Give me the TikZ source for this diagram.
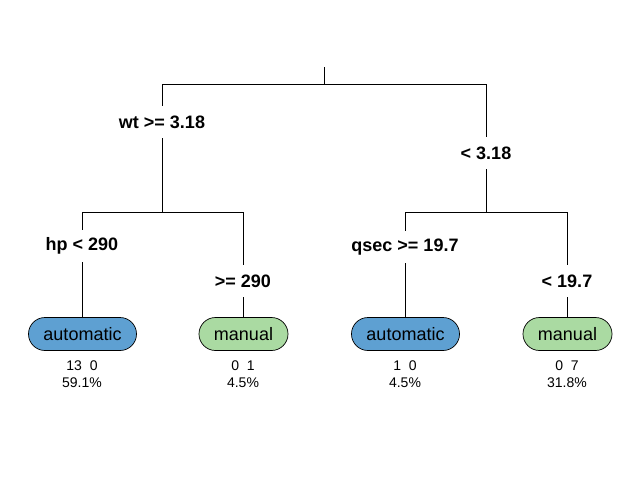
\documentclass[tikz,border=0pt]{standalone}
\usepackage{fontspec}
\setmainfont{Liberation Sans}
\definecolor{leafblue}{RGB}{94,160,210}
\definecolor{leafgreen}{RGB}{170,218,162}
\begin{document}
\begin{tikzpicture}[x=1pt,y=-1pt,
  edge/.style={line width=1pt,draw=black},
  splitlabel/.style={fill=white,inner xsep=2pt,minimum height=32pt,font=\fontsize{18}{21}\selectfont\bfseries},
  leaf/.style={draw=black,line width=0.7pt,rounded corners=16.5pt,minimum height=33pt,inner xsep=15pt,inner ysep=0pt,font=\fontsize{18}{21}\selectfont},
  stats/.style={align=center,inner sep=0pt,font=\fontsize{14}{17}\selectfont}]
\useasboundingbox (0,0) rectangle (640,480);
\fill[white] (0,0) rectangle (640,480);
% coordinates
\coordinate (top) at (324.5,67);
\coordinate (split) at (324.5,84.5);
\coordinate (L) at (162.5,212.5);
\coordinate (R) at (486.5,212.5);
% leaves
\node[leaf,fill=leafblue] (la) at (82.5,334) {automatic};
\node[leaf,fill=leafgreen] (lm) at (243.5,334) {manual};
\node[leaf,fill=leafblue] (ra) at (405.5,334) {automatic};
\node[leaf,fill=leafgreen] (rm) at (567.5,334) {manual};
% edges
\draw[edge] (top) -- (split);
\draw[edge] (L) |- (split) -| (R);
\draw[edge] (la.north) |- (L) -| (lm.north);
\draw[edge] (ra.north) |- (R) -| (rm.north);
% split labels
\node[splitlabel] (s1) at (162,122) {wt >= 3.18};
\node[splitlabel] (s2) at (486,153) {< 3.18};
\node[splitlabel] (s3) at (82,246) {hp < 290};
\node[splitlabel] (s4) at (243,281) {>= 290};
\node[splitlabel] (s5) at (405,247) {qsec >= 19.7};
\node[splitlabel] (s6) at (567,281) {< 19.7};
% stats
\node[stats] (t1) at (82,374.5) {13\ \ 0\\59.1\%};
\node[stats] (t2) at (243,374.5) {0\ \ 1\\4.5\%};
\node[stats] (t3) at (405,374.5) {1\ \ 0\\4.5\%};
\node[stats] (t4) at (567,374.5) {0\ \ 7\\31.8\%};
\end{tikzpicture}
\end{document}
